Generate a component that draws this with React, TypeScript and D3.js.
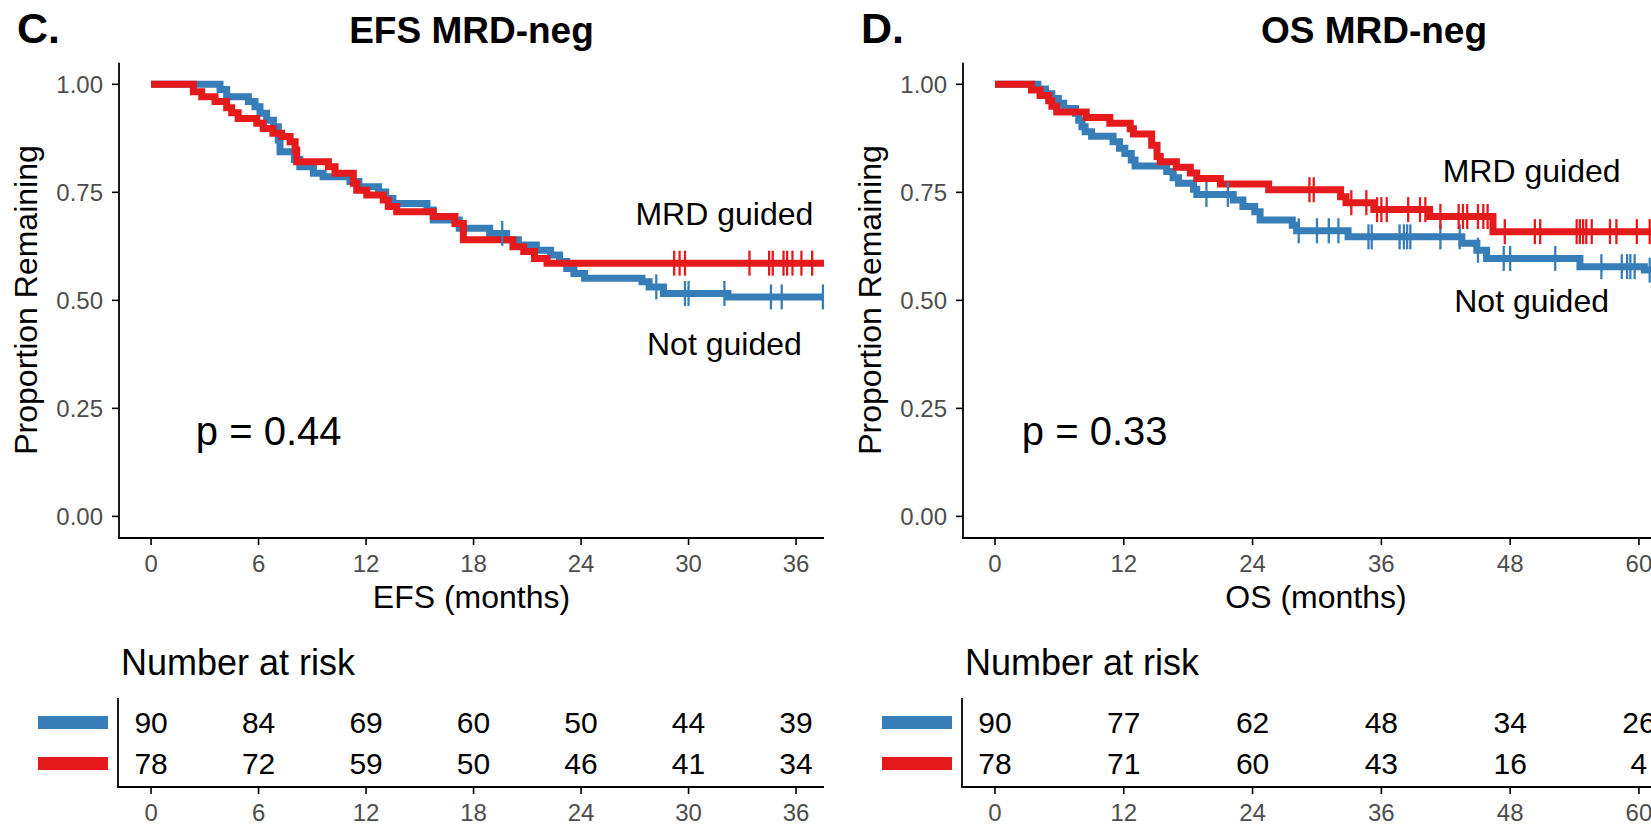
import React from "react";
import * as d3 from "d3";

const BLUE = "#377EB8";
const RED = "#E41A1C";
const FONT = "'Liberation Sans', Arial, Helvetica, sans-serif";
const GREY = "#4D4D4D";

type Step = [number, number];

// EFS, MRD-negative: [month, survival after the drop]
const efsNotGuided: Step[] = [
  [3.85, 0.988], [4.22, 0.971], [5.43, 0.96], [5.8, 0.948], [6.08, 0.933], [6.45, 0.917],
  [6.83, 0.902], [7.1, 0.871], [7.2, 0.844], [8.0, 0.826], [8.3, 0.809], [9.06, 0.794],
  [9.6, 0.786], [11.1, 0.775], [11.6, 0.763], [12.7, 0.751], [13.1, 0.736], [13.5, 0.724],
  [15.4, 0.709], [15.75, 0.686], [17.2, 0.667], [18.9, 0.655], [19.85, 0.64], [20.5, 0.628],
  [21.5, 0.616], [22.3, 0.605], [22.8, 0.59], [23.2, 0.574], [23.6, 0.562], [24.2, 0.551],
  [27.4, 0.543], [27.8, 0.531], [28.6, 0.516], [32.2, 0.508],
];
const efsGuided: Step[] = [
  [2.36, 0.983], [2.83, 0.971], [3.57, 0.96], [4.22, 0.946], [4.5, 0.934], [4.86, 0.921],
  [5.9, 0.91], [6.26, 0.898], [6.8, 0.887], [7.29, 0.879], [7.76, 0.867], [8.04, 0.848],
  [8.13, 0.821], [9.9, 0.809], [10.27, 0.794], [11.29, 0.771], [11.48, 0.755], [12.04, 0.744],
  [12.96, 0.732], [13.24, 0.717], [13.71, 0.705], [15.75, 0.694], [16.96, 0.678], [17.43, 0.64],
  [20.2, 0.624], [20.8, 0.613], [21.4, 0.597], [22.1, 0.586],
];
const efsCensNotGuided = [19.6, 28.2, 29.8, 30.0, 32.0, 34.6, 35.2, 37.5];
const efsCensGuided = [29.2, 29.5, 29.8, 33.4, 34.5, 34.7, 35.3, 35.5, 35.8, 36.3, 36.9];

// OS, MRD-negative
const osNotGuided: Step[] = [
  [4.0, 0.989], [4.7, 0.978], [5.3, 0.967], [5.9, 0.956], [6.4, 0.944], [7.5, 0.933],
  [7.8, 0.917], [8.1, 0.902], [8.4, 0.89], [9.0, 0.88], [11.0, 0.867], [11.6, 0.852],
  [12.1, 0.84], [12.7, 0.825], [13.05, 0.811], [16.0, 0.798], [16.6, 0.784], [17.1, 0.771],
  [18.5, 0.757], [18.8, 0.745], [22.2, 0.732], [23.1, 0.717], [24.2, 0.705], [24.7, 0.686],
  [27.7, 0.674], [28.1, 0.661], [32.9, 0.647], [43.5, 0.632], [44.9, 0.616], [45.8, 0.597],
  [54.5, 0.578], [60.5, 0.57],
];
const osGuided: Step[] = [
  [3.4, 0.987], [4.2, 0.974], [5.0, 0.962], [5.3, 0.949], [5.75, 0.936], [8.5, 0.923],
  [10.7, 0.91], [12.6, 0.897], [12.9, 0.885], [14.6, 0.859], [15.1, 0.833], [15.4, 0.821],
  [16.9, 0.808], [18.2, 0.795], [18.8, 0.782], [21.0, 0.769], [25.5, 0.756], [32.2, 0.74],
  [32.7, 0.726], [35.3, 0.71], [40.5, 0.694], [46.4, 0.659],
];
const osCensNotGuided = [
  19.7, 21.7, 28.3, 30.0, 31.1, 32.0, 34.8, 35.1, 37.7, 38.1, 38.4, 38.7, 41.5, 43.3, 45.0,
  47.4, 48.0, 52.2, 56.5, 58.4, 58.9, 59.2, 59.6, 61.0,
];
const osCensGuided = [
  29.3, 29.7, 33.2, 34.6, 35.6, 36.0, 36.5, 38.5, 39.6, 40.1, 41.5, 43.2, 43.6, 44.0, 45.0,
  45.5, 45.9, 47.5, 50.3, 50.8, 54.2, 54.5, 54.8, 55.1, 55.6, 57.3, 57.9, 59.8, 61.0,
];

// number at risk
const efsRiskTimes = [0, 6, 12, 18, 24, 30, 36];
const efsRiskNotGuided = [90, 84, 69, 60, 50, 44, 39];
const efsRiskGuided = [78, 72, 59, 50, 46, 41, 34];
const osRiskTimes = [0, 12, 24, 36, 48, 60];
const osRiskNotGuided = [90, 77, 62, 48, 34, 26];
const osRiskGuided = [78, 71, 60, 43, 16, 4];

const yTicks = [0, 0.25, 0.5, 0.75, 1];
const strata = ["Not guided", "MRD guided"];

function survAt(steps: Step[], t: number) {
  let s = 1;
  for (const [tt, v] of steps) {
    if (tt <= t) s = v;
    else break;
  }
  return s;
}

function Panel(props: any) {
  const { letter, title, titleX, xLabel, left, right, domain, ticks, endTime, notGuided, guided,
    censNot, censGuided, pText, guidedLabel, notLabel, riskNot, riskGuided } = props;
  const x = d3.scaleLinear().domain(domain).range([left, right]);
  const y = d3.scaleLinear().domain([-0.05, 1.05]).range([538, 62.7]);
  const rowY = d3.scalePoint<string>().domain(strata).range([722, 763]);
  const line = d3.line<Step>().x(d => x(d[0])).y(d => y(d[1])).curve(d3.curveStepAfter);
  const path = (steps: Step[]) =>
    line([[0, 1], ...steps, [endTime, steps[steps.length - 1][1]]]) || "";
  const mid = (left + right) / 2;
  const fmt = d3.format(".2f");

  const cens = (times: number[], steps: Step[], color: string) =>
    times.map((t, i) => (
      <line key={i} x1={x(t)} x2={x(t)} y1={y(survAt(steps, t)) - 12.5} y2={y(survAt(steps, t)) + 12.5}
        stroke={color} strokeWidth={2.3} />
    ));

  return (
    <g fontFamily={FONT}>
      <text x={left - 102} y={43} fontSize={43} fontWeight="bold">{letter}</text>
      <text x={titleX ?? mid} y={43} fontSize={37} fontWeight="bold" textAnchor="middle">{title}</text>

      {/* y axis */}
      <line x1={left} x2={left} y1={62.7} y2={539} stroke="#000" strokeWidth={1.8} />
      {yTicks.map(v => (
        <g key={v}>
          <line x1={left - 7} x2={left} y1={y(v)} y2={y(v)} stroke="#000" strokeWidth={1.6} />
          <text x={left - 16} y={y(v)} dy="0.35em" textAnchor="end" fontSize={24} fill={GREY}>{fmt(v)}</text>
        </g>
      ))}
      <text transform={`translate(${left - 82},300) rotate(-90)`} textAnchor="middle" fontSize={32}>
        Proportion Remaining
      </text>

      {/* x axis */}
      <line x1={left - 1} x2={right} y1={538} y2={538} stroke="#000" strokeWidth={1.8} />
      {ticks.map((t: number) => (
        <g key={t}>
          <line x1={x(t)} x2={x(t)} y1={538} y2={545} stroke="#000" strokeWidth={1.6} />
          <text x={x(t)} y={572} textAnchor="middle" fontSize={24} fill={GREY}>{t}</text>
        </g>
      ))}
      <text x={mid} y={608} textAnchor="middle" fontSize={32}>{xLabel}</text>

      {/* curves */}
      <path d={path(notGuided)} fill="none" stroke={BLUE} strokeWidth={7} />
      <path d={path(guided)} fill="none" stroke={RED} strokeWidth={7} />
      {cens(censNot, notGuided, BLUE)}
      {cens(censGuided, guided, RED)}

      <text x={x(2.5)} y={445} fontSize={40}>{pText}</text>
      <text x={x(guidedLabel[0])} y={y(guidedLabel[1])} dy="0.35em" textAnchor="middle" fontSize={32}>MRD guided</text>
      <text x={x(notLabel[0])} y={y(notLabel[1])} dy="0.35em" textAnchor="middle" fontSize={32}>Not guided</text>

      {/* risk table */}
      <text x={left + 2} y={675} fontSize={36}>Number at risk</text>
      <line x1={left - 1} x2={left - 1} y1={698} y2={788} stroke="#000" strokeWidth={1.8} />
      <line x1={left - 1} x2={right} y1={787} y2={787} stroke="#000" strokeWidth={1.8} />
      {ticks.map((t: number) => (
        <g key={t}>
          <line x1={x(t)} x2={x(t)} y1={787} y2={794} stroke="#000" strokeWidth={1.6} />
          <text x={x(t)} y={821} textAnchor="middle" fontSize={24} fill={GREY}>{t}</text>
        </g>
      ))}
      <rect x={left - 81} y={(rowY("Not guided") as number) - 6} width={70} height={13} fill={BLUE} />
      <rect x={left - 81} y={(rowY("MRD guided") as number) - 6} width={70} height={13} fill={RED} />
      {ticks.map((t: number, i: number) => (
        <g key={t}>
          <text x={x(t)} y={rowY("Not guided")} dy="0.35em" textAnchor="middle" fontSize={30}>{riskNot[i]}</text>
          <text x={x(t)} y={rowY("MRD guided")} dy="0.35em" textAnchor="middle" fontSize={30}>{riskGuided[i]}</text>
        </g>
      ))}
    </g>
  );
}

export default function App() {
  return (
    <svg width={1651} height={825} style={{ position: "absolute", left: 0, top: 0, background: "#fff" }}>
      <rect width={1651} height={825} fill="#fff" />
      <Panel letter="C." title="EFS MRD-neg" xLabel="EFS (months)" left={119} right={824}
        domain={[-1.79, 37.56]} ticks={efsRiskTimes} endTime={37.56}
        notGuided={efsNotGuided} guided={efsGuided} censNot={efsCensNotGuided} censGuided={efsCensGuided}
        pText="p = 0.44" guidedLabel={[32, 0.7]} notLabel={[32, 0.4]}
        riskNot={efsRiskNotGuided} riskGuided={efsRiskGuided} />
      <Panel letter="D." title="OS MRD-neg" titleX={1374} xLabel="OS (months)" left={963} right={1669}
        domain={[-2.98, 62.8]} ticks={osRiskTimes} endTime={62.8}
        notGuided={osNotGuided} guided={osGuided} censNot={osCensNotGuided} censGuided={osCensGuided}
        pText="p = 0.33" guidedLabel={[50, 0.8]} notLabel={[50, 0.5]}
        riskNot={osRiskNotGuided} riskGuided={osRiskGuided} />
    </svg>
  );
}
